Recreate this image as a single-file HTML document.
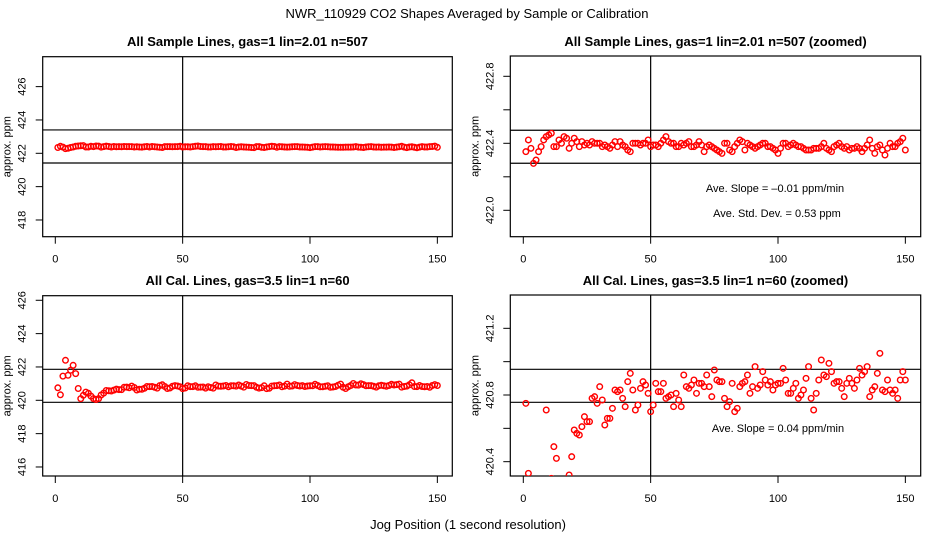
<!DOCTYPE html>
<html><head><meta charset="utf-8"><style>
html,body{margin:0;padding:0;background:#fff;}
svg{display:block;font-family:"Liberation Sans",sans-serif;}
</style></head><body>
<svg id="chart" width="936" height="540" viewBox="0 0 936 540" xmlns="http://www.w3.org/2000/svg">
<defs>
<clipPath id="c1"><rect x="42.7" y="56.7" width="409.6" height="180"/></clipPath>
<clipPath id="c2"><rect x="510.3" y="56" width="410.4" height="180.7"/></clipPath>
<clipPath id="c3"><rect x="42.7" y="295.7" width="409.6" height="180.3"/></clipPath>
<clipPath id="c4"><rect x="510.3" y="295" width="410.4" height="181"/></clipPath>
</defs>
<text x="467" y="18" font-size="13" text-anchor="middle">NWR_110929  CO2 Shapes Averaged by Sample or Calibration</text>
<text x="468" y="529" font-size="13" text-anchor="middle">Jog Position (1 second resolution)</text>
</svg>
<script>
const xTicks = [0, 50, 100, 150];
const sampleValues = [422.35,422.42,422.37,422.28,422.30,422.35,422.38,422.42,422.44,422.45,
422.46,422.38,422.38,422.42,422.40,422.44,422.43,422.37,422.40,422.43,
422.41,422.38,422.41,422.39,422.40,422.39,422.41,422.40,422.40,422.40,
422.38,422.39,422.38,422.37,422.39,422.41,422.38,422.41,422.39,422.38,
422.36,422.35,422.40,422.40,422.40,422.39,422.40,422.40,422.42,422.38,
422.39,422.39,422.38,422.40,422.42,422.44,422.41,422.40,422.40,422.38,
422.38,422.40,422.39,422.40,422.41,422.38,422.38,422.39,422.41,422.39,
422.35,422.38,422.39,422.38,422.37,422.36,422.35,422.34,422.40,422.40,
422.36,422.35,422.38,422.40,422.42,422.41,422.36,422.40,422.39,422.38,
422.37,422.38,422.39,422.40,422.40,422.38,422.38,422.37,422.36,422.34,
422.37,422.40,422.40,422.38,422.39,422.40,422.39,422.38,422.38,422.37,
422.36,422.36,422.36,422.37,422.37,422.37,422.38,422.40,422.37,422.36,
422.35,422.38,422.39,422.40,422.38,422.37,422.38,422.36,422.37,422.37,
422.38,422.37,422.35,422.37,422.39,422.42,422.37,422.34,422.38,422.39,
422.36,422.33,422.37,422.40,422.38,422.38,422.40,422.41,422.43,422.36];
const calValues = [420.75,420.33,421.45,422.40,421.50,421.80,422.10,421.60,420.71,420.10,
420.30,420.49,420.42,420.25,420.10,420.05,420.10,420.32,420.43,420.59,
420.57,420.56,420.61,420.67,420.64,420.64,420.78,420.79,420.75,420.85,
420.77,420.62,420.66,420.66,420.72,420.83,420.82,420.83,420.78,420.73,
420.88,420.93,420.83,420.71,420.74,420.84,420.88,420.86,420.81,420.70,
420.74,420.87,420.82,420.82,420.87,420.78,420.79,420.80,420.73,420.81,
420.77,420.73,420.92,420.85,420.84,420.86,420.89,420.81,420.87,420.87,
420.85,420.92,420.85,420.79,420.95,420.89,420.88,420.88,420.78,420.73,
420.76,420.87,420.70,420.72,420.85,420.87,420.88,420.92,420.81,420.85,
420.97,420.84,420.86,420.94,420.89,420.86,420.88,420.83,420.86,420.87,
420.87,420.96,420.89,420.81,420.81,420.84,420.87,420.78,420.80,420.83,
420.90,420.97,420.78,420.71,420.81,420.89,421.01,420.92,420.91,420.99,
420.94,420.87,420.88,420.88,420.84,420.79,420.87,420.90,420.87,420.84,
420.89,420.96,420.92,420.94,420.97,420.79,420.83,420.85,420.93,421.05,
420.83,420.82,420.89,420.83,420.81,420.83,420.78,420.89,420.94,420.89];
const p1Ticks = [418, 420, 422, 424, 426];
const p2Ticks = [422.0, 422.2, 422.4, 422.6, 422.8];
const p2Labels = ["422.0", "", "422.4", "", "422.8"];
const p3Ticks = [416, 418, 420, 422, 424, 426];
const p4Ticks = [420.4, 420.6, 420.8, 421.0, 421.2];
const p4Labels = ["420.4", "", "420.8", "", "421.2"];
const p1HLines = [423.4, 421.42];
const p2HLines = [422.478, 422.281];
const p3HLines = [421.86, 419.88];
const p4HLines = [420.954, 420.756];

const NS = "http://www.w3.org/2000/svg";
const svg = document.getElementById('chart');
function mk(tag, attrs, parent) {
  const e = document.createElementNS(NS, tag);
  for (const k in attrs) e.setAttribute(k, attrs[k]);
  (parent || svg).appendChild(e);
  return e;
}
const panels = [
  {id:'sample-full', L:42.7, R:452.3, T:56.7, B:236.7, x0:55.3, v0:422, vy:153.3, ppu:16.67, ticks:p1Ticks, labels:null, h:p1HLines, data:sampleValues, clip:'c1', title:'All Sample Lines, gas=1 lin=2.01 n=507', ty:46},
  {id:'sample-zoomed', L:510.3, R:920.7, T:56, B:236.7, x0:523.3, v0:422.4, vy:143.3, ppu:167.5, ticks:p2Ticks, labels:p2Labels, h:p2HLines, data:sampleValues, clip:'c2', title:'All Sample Lines, gas=1 lin=2.01 n=507 (zoomed)', ty:46},
  {id:'cal-full', L:42.7, R:452.3, T:295.7, B:476, x0:55.3, v0:420, vy:400.3, ppu:16.67, ticks:p3Ticks, labels:null, h:p3HLines, data:calValues, clip:'c3', title:'All Cal. Lines, gas=3.5 lin=1 n=60', ty:285},
  {id:'cal-zoomed', L:510.3, R:920.7, T:295, B:476, x0:523.3, v0:420.8, vy:395, ppu:166.7, ticks:p4Ticks, labels:p4Labels, h:p4HLines, data:calValues, clip:'c4', title:'All Cal. Lines, gas=3.5 lin=1 n=60 (zoomed)', ty:285}
];
const xs = 2.547;
panels.forEach(function(p){
  const g = mk('g', {});
  
  
  const X = function(u){ return p.x0 + u * xs; };
  const Y = function(v){ return p.vy - (v - p.v0) * p.ppu; };
  const t = mk('text', {x:(p.L+p.R)/2, y:p.ty, 'font-size':13, 'font-weight':'bold', 'text-anchor':'middle'}, g);
  t.textContent = p.title;
  
  
  const box = mk('rect', {x:p.L, y:p.T, width:p.R-p.L, height:p.B-p.T, fill:'none', stroke:'#000', 'stroke-width':1.2}, g);
  
  
  xTicks.forEach(function(v){
    const x = X(v);
    const tk = mk('line', {x1:x, x2:x, y1:p.B, y2:p.B+7, stroke:'#000'}, g);
    
    
    const tl = mk('text', {x:x, y:p.B+26, 'font-size':11, 'text-anchor':'middle'}, g);
    tl.textContent = v;
    
    
  });
  p.ticks.forEach(function(v, i){
    const y = Y(v);
    const tk = mk('line', {x1:p.L-7, x2:p.L, y1:y, y2:y, stroke:'#000'}, g);
    
    
    const lab = p.labels ? p.labels[i] : String(v);
    if (lab) {
      const lx = p.L - 17;
      const tl = mk('text', {x:lx, y:y, 'font-size':11, 'text-anchor':'middle', transform:'rotate(-90 '+lx+' '+y+')'}, g);
      tl.textContent = lab;
      
      
    }
  });
  const yl = p.L - 32, ym = (p.T+p.B)/2;
  const ylab = mk('text', {x:yl, y:ym, 'font-size':11, 'text-anchor':'middle', transform:'rotate(-90 '+yl+' '+ym+')'}, g);
  ylab.textContent = 'approx. ppm';
  
  
  const vl = mk('line', {x1:X(50), x2:X(50), y1:p.T, y2:p.B, stroke:'#000', 'stroke-width':1.2}, g);
  
  
  p.h.forEach(function(v){
    const hl = mk('line', {x1:p.L, x2:p.R, y1:Y(v), y2:Y(v), stroke:'#000', 'stroke-width':1.2}, g);
    
    
  });
  const pg = mk('g', {'clip-path':'url(#'+p.clip+')'}, g);
  p.data.forEach(function(v, i){
    const c = mk('circle', {cx:X(i+1), cy:Y(v), r:2.8, fill:'none', stroke:'#f00', 'stroke-width':1.4}, pg);
    
    
  });
});
function ann(txt, x, y) {
  const t = mk('text', {x:x, y:y, 'font-size':11, 'text-anchor':'middle'});
  t.textContent = txt;
  
  
}
ann('Ave. Slope =  \u20130.01  ppm/min', 775, 192);
ann('Ave. Std. Dev. =  0.53  ppm', 777, 217);
ann('Ave. Slope =  0.04  ppm/min', 778, 432);
</script>
</body></html>
